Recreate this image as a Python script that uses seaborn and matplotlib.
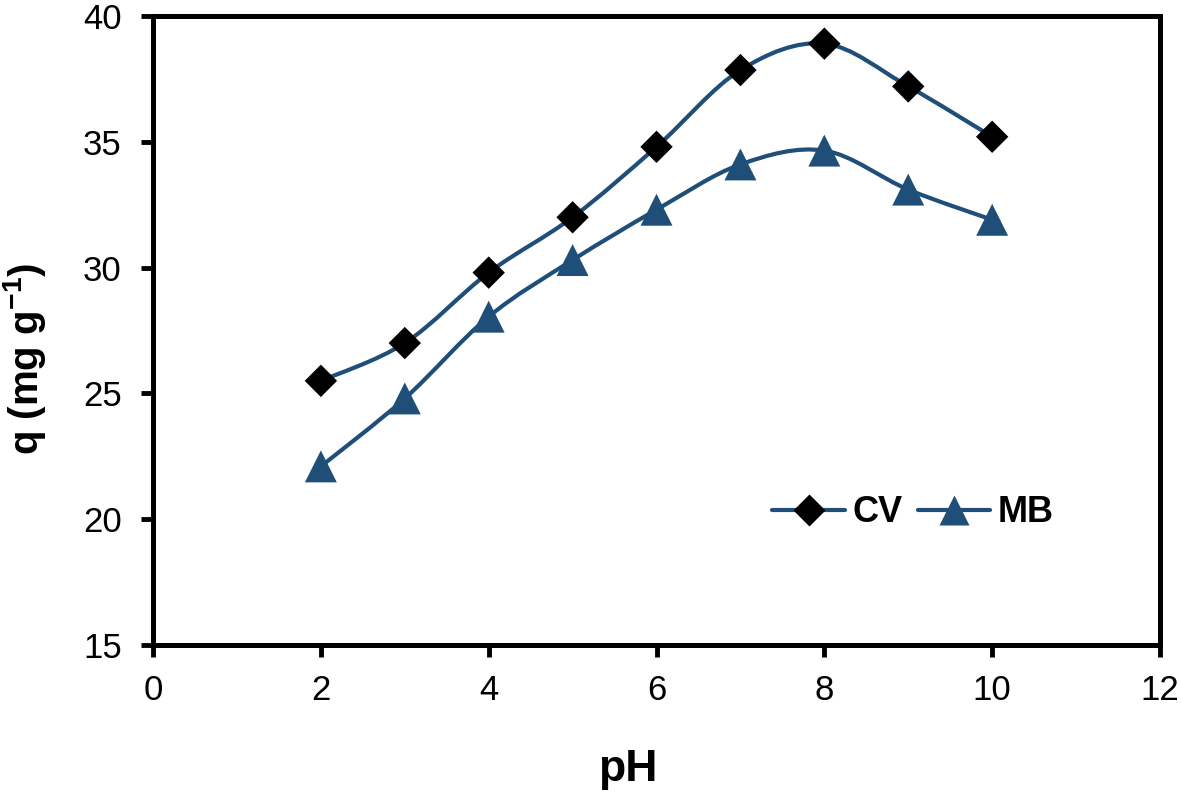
import numpy as np
import pandas as pd
import matplotlib
matplotlib.use("Agg")
import matplotlib.pyplot as plt
from matplotlib.path import Path
from matplotlib.patches import PathPatch
from matplotlib.lines import Line2D
import seaborn as sns

# Data
ph = [2, 3, 4, 5, 6, 7, 8, 9, 10]
q_cv = [25.5, 27.0, 29.8, 32.0, 34.8, 37.85, 38.9, 37.2, 35.2]
q_mb = [22.1, 24.8, 28.05, 30.3, 32.3, 34.1, 34.65, 33.1, 31.9]
series_names = ["CV", "MB"]

line_color = "#1f4e79"
marker_colors = {"CV": "black", "MB": "#1f4e79"}
marker_shapes = {"CV": "D", "MB": "^"}

df = pd.DataFrame({
    "pH": ph * 2,
    "q": q_cv + q_mb,
    "dye": ["CV"] * len(ph) + ["MB"] * len(ph),
})

sns.set_theme(style="ticks", rc={"text.color": "black", "axes.labelcolor": "black",
                                 "xtick.color": "black", "ytick.color": "black"})
plt.rcParams["font.family"] = ["Liberation Sans", "DejaVu Sans"]
plt.rcParams["mathtext.fontset"] = "custom"
plt.rcParams["mathtext.rm"] = "Liberation Sans"
plt.rcParams["mathtext.bf"] = "Liberation Sans:bold"


def smooth_path(x, y):
    # Excel-style smoothed line: cubic Bezier segments with Catmull-Rom tangents
    pts = np.column_stack([x, y]).astype(float)
    ext = np.vstack([pts[0], pts, pts[-1]])
    verts = [pts[0]]
    codes = [Path.MOVETO]
    for i in range(len(pts) - 1):
        p0, p1, p2, p3 = ext[i], ext[i + 1], ext[i + 2], ext[i + 3]
        c1 = p1 + (p2 - p0) / 6.0
        c2 = p2 - (p3 - p1) / 6.0
        verts += [c1, c2, p2]
        codes += [Path.CURVE4] * 3
    return Path(verts, codes)


fig = plt.figure(figsize=(11.81, 7.99), dpi=100)
ax = fig.add_axes([0.1296, 0.1927, 0.8526, 0.7873])

for name, vals in zip(series_names, [q_cv, q_mb]):
    patch = PathPatch(smooth_path(ph, vals), facecolor="none",
                      edgecolor=line_color, lw=3.0, zorder=2)
    ax.add_patch(patch)

for name in series_names:
    sub = df[df["dye"] == name]
    sns.scatterplot(data=sub, x="pH", y="q", ax=ax,
                    marker=marker_shapes[name], color=marker_colors[name],
                    s=(16.5 if name == "CV" else 23) ** 2,
                    edgecolor="none", zorder=3, legend=False)

ax.set_xlim(0, 12)
ax.set_ylim(15, 40)
ax.set_xticks(range(0, 13, 2))
ax.set_yticks(range(15, 41, 5))

for sp in ax.spines.values():
    sp.set_linewidth(3.6)
    sp.set_color("black")
ax.tick_params(direction="out", length=8.5, width=3.5, labelsize=25,
               colors="black")
ax.tick_params(axis="y", pad=14)
ax.tick_params(axis="x", pad=12)

ax.set_xlabel("pH", fontsize=32, fontweight="bold")
ax.set_ylabel(r"q (mg g$^{\mathbf{-1}}$)", fontsize=29, fontweight="bold")
ax.xaxis.set_label_coords(0.471, -0.165)
ax.yaxis.set_label_coords(-0.104, 0.455)

handles = [
    Line2D([0], [0], color=line_color, lw=3.0, marker="D", markersize=16,
           markerfacecolor="black", markeredgecolor="none"),
    Line2D([0], [0], color=line_color, lw=3.0, marker="^", markersize=22,
           markerfacecolor="#1f4e79", markeredgecolor="none"),
]
leg = ax.legend(handles, series_names, ncol=2, frameon=False,
                loc="center", bbox_to_anchor=(0.755, 0.21),
                prop={"weight": "bold", "size": 26},
                handlelength=2.0, handletextpad=0.22, columnspacing=0.42,
                borderpad=0.2)

fig.savefig("out.png", dpi=100)
